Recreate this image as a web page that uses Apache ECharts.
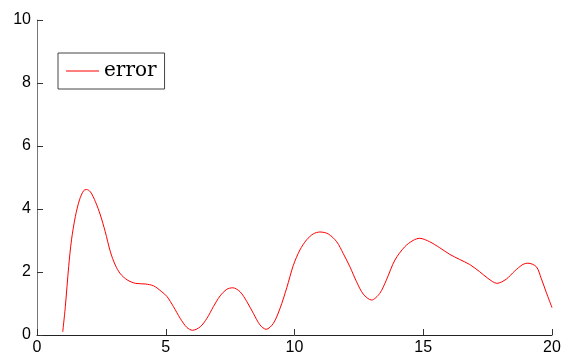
<!DOCTYPE html>
<html>
<head>
<meta charset="utf-8">
<script src="https://cdn.jsdelivr.net/npm/echarts@6/dist/echarts.min.js"></script>
<style>
html,body{margin:0;padding:0;background:#fff;}
#chart{width:561px;height:356px;}
</style>
</head>
<body>
<div id="chart"></div>
<script>
const seriesName = 'error';
const xValues = [1.0,1.1,1.23,1.34,1.49,1.65,1.81,1.92,2.07,2.27,2.46,2.65,2.85,3.04,3.24,3.5,3.82,4.2,4.53,4.85,5.05,5.30,5.56,5.82,6.04,6.34,6.6,6.85,7.11,7.37,7.6,7.89,8.15,8.40,8.66,8.9,9.18,9.44,9.70,9.95,10.21,10.47,10.73,10.99,11.31,11.64,11.89,12.15,12.41,12.67,12.99,13.31,13.57,13.9,14.28,14.6,14.86,15.25,15.64,16.03,16.41,16.8,17.19,17.51,17.86,18.22,18.55,18.87,19.06,19.39,19.58,19.77,20.0];
const yValues = [0.1,0.9,2.17,3.02,3.76,4.29,4.58,4.62,4.55,4.23,3.81,3.28,2.64,2.22,1.94,1.75,1.64,1.62,1.56,1.37,1.22,0.9,0.53,0.24,0.15,0.26,0.53,0.9,1.24,1.45,1.5,1.37,1.06,0.69,0.32,0.18,0.37,0.85,1.5,2.2,2.7,3.02,3.21,3.27,3.21,2.96,2.59,2.17,1.69,1.30,1.11,1.32,1.75,2.38,2.8,3.0,3.07,2.96,2.77,2.56,2.40,2.24,2.01,1.8,1.64,1.77,2.03,2.24,2.28,2.17,1.80,1.37,0.87];
const xTicks = [0,5,10,15,20];
const yTicks = [0,2,4,6,8,10];

const data = xValues.map((x,i)=>[x,yValues[i]]);
const chart = echarts.init(document.getElementById('chart'));
const labelFont = {fontFamily:'Liberation Sans, Arial, sans-serif', fontSize:16, color:'#000'};
chart.setOption({
  animation:false,
  backgroundColor:'#fff',
  grid:{left:37,right:9,top:20,bottom:21,containLabel:false,outerBoundsMode:'none'},
  legend:{
    left:58, top:53,
    padding:[8,8,8,8],
    borderColor:'#444', borderWidth:1,
    itemWidth:33, itemHeight:1, itemGap:5,
    textStyle:{fontFamily:'DejaVu Serif, serif', fontSize:20, color:'#000', padding:[0,0,0,0]},
    data:[{name:seriesName, icon:'rect'}]
  },
  xAxis:{
    type:'value', min:xTicks[0], max:xTicks[xTicks.length-1], interval:5,
    axisLine:{lineStyle:{color:'#222',width:1}},
    axisTick:{inside:true,length:6,lineStyle:{color:'#333'}},
    axisLabel:Object.assign({margin:5},labelFont),
    splitLine:{show:false}
  },
  yAxis:{
    type:'value', min:yTicks[0], max:yTicks[yTicks.length-1], interval:2,
    axisLine:{show:true,lineStyle:{color:'#777',width:1}},
    axisTick:{show:true,inside:true,length:6,lineStyle:{color:'#333'}},
    axisLabel:Object.assign({margin:6},labelFont),
    splitLine:{show:false}
  },
  series:[{
    name:seriesName, type:'line', data:data,
    symbol:'none', smooth:0.3,
    lineStyle:{color:'#ff0000',width:1},
    itemStyle:{color:'#ff0000'}
  }]
});
</script>
</body>
</html>
